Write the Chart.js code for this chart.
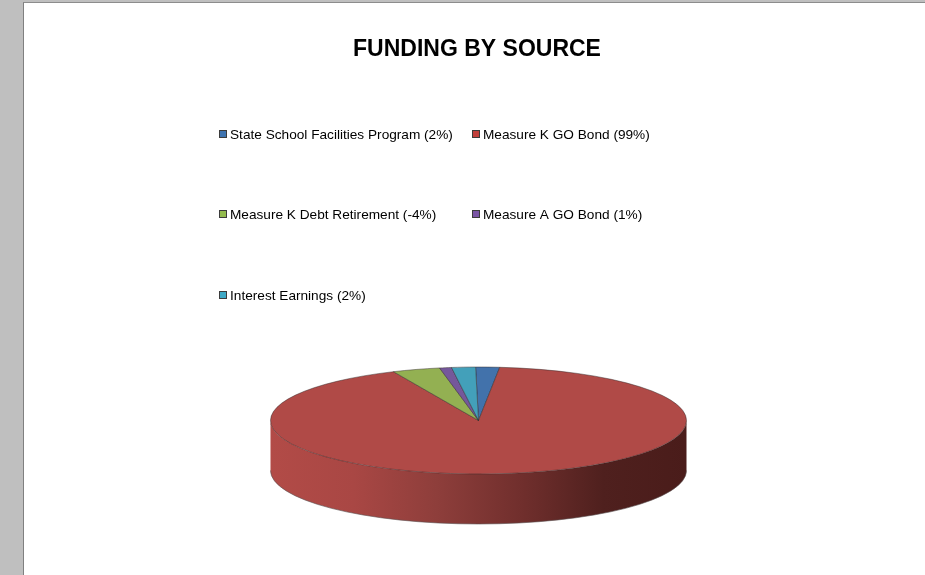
<!DOCTYPE html>
<html>
<head>
<meta charset="utf-8">
<title>Funding by source</title>
<script src="https://cdn.jsdelivr.net/npm/chart.js@4"></script>
<style>
  html, body { margin: 0; padding: 0; width: 925px; height: 575px; overflow: hidden; background: #bfbfbf; }
  #page { position: absolute; left: 23px; top: 2px; right: 0; bottom: 0; background: #fff; border-left: 1px solid #808080; border-top: 1px solid #8c8c8c; }
  #funding { position: absolute; left: 0; top: 0; }
</style>
</head>
<body>
<div id="page"></div>
<canvas id="funding" width="925" height="575"></canvas>
<script>
const sources = ['State School Facilities Program', 'Measure K GO Bond', 'Measure K Debt Retirement', 'Measure A GO Bond', 'Interest Earnings'];
const percents = [2, 99, -4, 1, 2];
const sliceColors = ['#4272ab', '#b04a47', '#93b052', '#75589a', '#43a0ba'];
const keyColors = ['#3f74b0', '#c2403c', '#93bb4e', '#7a55a5', '#3ea9c6'];

const legendColumns = [219, 472];
const legendRows = [135, 215, 296];

// pie sits flattened on the page: centre, squash and wall height
const pieCentre = { x: 478.5, y: 420.5 };
const squash = 53.5 / 208;
const wallDepth = 50;

const flatPie = {
  id: 'flatPie',
  beforeDatasetsDraw(chart) {
    const ctx = chart.ctx;
    const arc = chart.getDatasetMeta(0).data[0];
    const rx = arc.outerRadius;
    const ry = rx * squash;
    const { x, y } = pieCentre;

    // side wall first, the top face goes over it
    const wall = ctx.createLinearGradient(x - rx, 0, x + rx, 0);
    wall.addColorStop(0, '#b24b47');
    wall.addColorStop(0.2, '#a94744');
    wall.addColorStop(0.4, '#8e3e3b');
    wall.addColorStop(0.6, '#712f2d');
    wall.addColorStop(0.8, '#4f201e');
    wall.addColorStop(1, '#4a1c1a');
    ctx.save();
    ctx.beginPath();
    ctx.ellipse(x, y, rx, ry, 0, 0, Math.PI);
    ctx.lineTo(x - rx, y + wallDepth);
    ctx.ellipse(x, y + wallDepth, rx, ry, 0, Math.PI, 0, true);
    ctx.closePath();
    ctx.fillStyle = wall;
    ctx.fill();
    ctx.beginPath();
    ctx.ellipse(x, y + wallDepth, rx, ry, 0, 0, Math.PI);
    ctx.strokeStyle = 'rgba(90,80,80,0.6)';
    ctx.lineWidth = 1;
    ctx.stroke();
    ctx.restore();

    ctx.save();
    ctx.translate(x, y);
    ctx.scale(1, squash);
    ctx.translate(-arc.x, -arc.y);
  },
  afterDatasetsDraw(chart) {
    chart.ctx.restore();
  }
};

const boxLegend = {
  id: 'boxLegend',
  afterDraw(chart) {
    const ctx = chart.ctx;
    ctx.save();
    ctx.font = '13.65px "Liberation Sans", Arial, sans-serif';
    ctx.textBaseline = 'middle';
    ctx.textAlign = 'left';
    sources.forEach((name, i) => {
      const left = legendColumns[i % 2];
      const mid = legendRows[Math.floor(i / 2)];
      ctx.fillStyle = keyColors[i];
      ctx.fillRect(left + 0.5, mid - 4.5, 7, 7);
      ctx.strokeStyle = '#3c3c3c';
      ctx.lineWidth = 1;
      ctx.strokeRect(left + 0.5, mid - 4.5, 7, 7);
      ctx.fillStyle = '#000';
      ctx.fillText(name + ' (' + percents[i] + '%)', left + 11, mid);
    });
    ctx.restore();
  }
};

new Chart(document.getElementById('funding'), {
  type: 'pie',
  data: {
    labels: sources,
    datasets: [{
      data: percents,
      backgroundColor: sliceColors,
      borderColor: 'rgba(50,40,40,0.75)',
      borderWidth: 1,
      borderAlign: 'center',
      clip: false
    }]
  },
  options: {
    responsive: false,
    animation: false,
    events: [],
    rotation: -0.8,
    layout: { padding: { left: 268.5, right: 239.5, top: 0, bottom: 0 } },
    plugins: {
      legend: { display: false },
      tooltip: { enabled: false },
      title: {
        display: true,
        fullSize: false,
        text: 'FUNDING BY SOURCE',
        color: '#000',
        font: { family: '"Liberation Sans", Arial, sans-serif', size: 23, weight: 'bold' },
        padding: { top: 36, bottom: 10 }
      }
    }
  },
  plugins: [flatPie, boxLegend]
});
</script>
</body>
</html>
